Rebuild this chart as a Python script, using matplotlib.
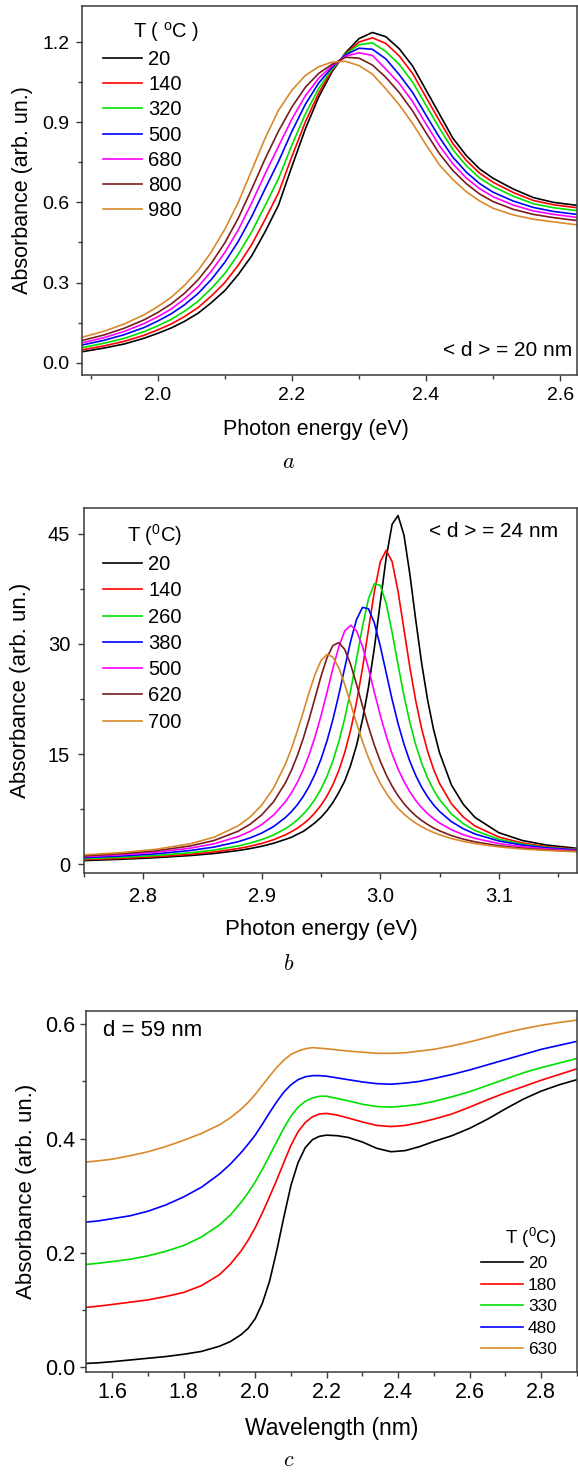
import matplotlib
matplotlib.use("Agg")
import matplotlib.pyplot as plt
from matplotlib.ticker import MultipleLocator

plt.rcParams['font.family'] = ['Liberation Sans', 'DejaVu Sans']
plt.rcParams['mathtext.fontset'] = 'cm'

# ---------------- Panel a data ----------------
energy_a = [1.887, 1.92, 1.95, 1.98, 2.00, 2.02, 2.04, 2.06, 2.08, 2.10, 2.12, 2.14, 2.16, 2.18,
            2.20, 2.22, 2.24, 2.26, 2.28, 2.30, 2.32, 2.34, 2.36, 2.38, 2.40, 2.42, 2.44, 2.46,
            2.48, 2.50, 2.53, 2.56, 2.59, 2.625]
temps_a = ['20', '140', '320', '500', '680', '800', '980']
abs_a_20 = [0.041, 0.055, 0.070, 0.092, 0.110, 0.130, 0.155, 0.185, 0.225, 0.270, 0.330, 0.400, 0.490, 0.590,
            0.735, 0.875, 0.995, 1.090, 1.160, 1.213, 1.236, 1.220, 1.175, 1.110, 1.020, 0.930, 0.840, 0.775,
            0.725, 0.690, 0.650, 0.618, 0.600, 0.589]
abs_a_140 = [0.048, 0.063, 0.080, 0.103, 0.123, 0.145, 0.173, 0.206, 0.250, 0.300, 0.365, 0.442, 0.536, 0.636,
             0.772, 0.901, 1.010, 1.095, 1.156, 1.200, 1.216, 1.195, 1.148, 1.082, 0.993, 0.905, 0.820, 0.757,
             0.709, 0.675, 0.637, 0.607, 0.591, 0.580]
abs_a_320 = [0.056, 0.073, 0.091, 0.117, 0.138, 0.162, 0.193, 0.230, 0.278, 0.334, 0.406, 0.490, 0.588, 0.689,
             0.815, 0.931, 1.027, 1.100, 1.155, 1.190, 1.197, 1.165, 1.116, 1.050, 0.963, 0.877, 0.797, 0.737,
             0.691, 0.659, 0.623, 0.595, 0.580, 0.569]
abs_a_500 = [0.066, 0.084, 0.105, 0.132, 0.156, 0.183, 0.217, 0.259, 0.312, 0.376, 0.454, 0.547, 0.651, 0.753,
             0.866, 0.967, 1.047, 1.106, 1.152, 1.177, 1.173, 1.137, 1.078, 1.011, 0.926, 0.843, 0.769, 0.713,
             0.670, 0.638, 0.605, 0.581, 0.566, 0.555]
abs_a_680 = [0.074, 0.094, 0.117, 0.147, 0.172, 0.201, 0.239, 0.284, 0.343, 0.413, 0.497, 0.598, 0.707, 0.810,
             0.912, 0.999, 1.065, 1.112, 1.147, 1.160, 1.150, 1.099, 1.045, 0.977, 0.893, 0.812, 0.744, 0.691,
             0.651, 0.621, 0.590, 0.568, 0.555, 0.544]
abs_a_800 = [0.083, 0.104, 0.129, 0.161, 0.188, 0.220, 0.260, 0.310, 0.373, 0.449, 0.541, 0.650, 0.763, 0.867,
             0.957, 1.031, 1.083, 1.117, 1.143, 1.140, 1.114, 1.068, 1.011, 0.942, 0.860, 0.782, 0.719, 0.670,
             0.631, 0.603, 0.574, 0.555, 0.543, 0.532]
abs_a_980 = [0.095, 0.118, 0.145, 0.180, 0.210, 0.245, 0.290, 0.345, 0.415, 0.500, 0.600, 0.720, 0.840, 0.945,
             1.020, 1.075, 1.108, 1.125, 1.128, 1.112, 1.080, 1.025, 0.965, 0.895, 0.815, 0.740, 0.685, 0.640,
             0.605, 0.578, 0.553, 0.537, 0.527, 0.516]

# ---------------- Panel b data ----------------
energy_b = [2.75, 2.78, 2.81, 2.84, 2.86, 2.88, 2.89, 2.90, 2.91, 2.92, 2.925, 2.93, 2.935, 2.94, 2.945,
            2.95, 2.955, 2.96, 2.965, 2.97, 2.975, 2.98, 2.985, 2.99, 2.995, 3.00, 3.005, 3.01, 3.015,
            3.02, 3.025, 3.03, 3.035, 3.04, 3.045, 3.05, 3.06, 3.07, 3.08, 3.10, 3.12, 3.14, 3.166]
temps_b = ['20', '140', '260', '380', '500', '620', '700']
abs_b_20 = [0.49, 0.66, 0.88, 1.18, 1.46, 1.86, 2.12, 2.44, 2.85, 3.38, 3.66, 4.07, 4.46, 5.03, 5.65,
            6.39, 7.29, 8.39, 9.76, 11.33, 13.47, 16.19, 19.67, 24.06, 29.44, 35.63, 41.74, 46.28, 47.47,
            44.81, 39.45, 33.17, 27.28, 22.30, 18.32, 15.18, 10.80, 8.16, 6.36, 4.29, 3.22, 2.61, 2.16]
abs_b_140 = [0.62, 0.79, 1.02, 1.35, 1.67, 2.13, 2.44, 2.83, 3.33, 4.00, 4.42, 4.90, 5.48, 6.17, 7.01,
             8.03, 9.27, 10.82, 12.76, 15.20, 18.27, 22.08, 26.69, 31.90, 37.11, 41.17, 42.74, 41.19, 37.15,
             31.96, 26.77, 22.18, 18.39, 15.34, 12.92, 11.00, 8.24, 6.42, 5.19, 3.70, 2.88, 2.40, 2.03]
abs_b_260 = [0.74, 0.93, 1.18, 1.56, 1.93, 2.48, 2.86, 3.35, 3.98, 4.84, 5.38, 6.03, 6.80, 7.73, 8.86,
             10.24, 11.95, 14.06, 16.67, 19.86, 23.66, 27.96, 32.37, 36.10, 38.20, 37.97, 35.48, 31.54, 27.14,
             22.94, 19.27, 16.21, 13.73, 11.72, 10.11, 8.80, 6.85, 5.52, 4.58, 3.39, 2.72, 2.30, 1.97]
abs_b_380 = [0.89, 1.10, 1.40, 1.87, 2.34, 3.06, 3.57, 4.24, 5.13, 6.36, 7.15, 8.09, 9.23, 10.61, 12.28,
             14.31, 16.76, 19.69, 23.06, 26.73, 30.36, 33.34, 34.97, 34.78, 32.85, 29.70, 26.04, 22.42, 19.15,
             16.34, 13.99, 12.05, 10.46, 9.15, 8.07, 7.18, 5.80, 4.83, 4.11, 3.16, 2.59, 2.23, 1.94]
abs_b_500 = [1.03, 1.27, 1.62, 2.19, 2.79, 3.75, 4.46, 5.40, 6.69, 8.51, 9.70, 11.13, 12.85, 14.92, 17.37,
             20.21, 23.37, 26.63, 29.61, 31.75, 32.53, 31.76, 29.64, 26.68, 23.42, 20.28, 17.46, 15.01, 12.96,
             11.26, 9.84, 8.66, 7.69, 6.87, 6.19, 5.61, 4.69, 4.02, 3.51, 2.81, 2.37, 2.08, 1.84]
abs_b_620 = [1.14, 1.41, 1.81, 2.49, 3.24, 4.48, 5.42, 6.71, 8.51, 11.09, 12.77, 14.78, 17.11, 19.79, 22.67,
             25.58, 28.10, 29.76, 30.18, 29.24, 27.19, 24.48, 21.55, 18.74, 16.21, 14.02, 12.17, 10.62, 9.32,
             8.24, 7.34, 6.58, 5.94, 5.40, 4.93, 4.54, 3.90, 3.41, 3.04, 2.51, 2.17, 1.94, 1.74]
abs_b_700 = [1.27, 1.56, 2.01, 2.79, 3.69, 5.22, 6.40, 8.05, 10.37, 13.64, 15.73, 18.11, 20.72, 23.41, 25.87,
             27.72, 28.57, 28.21, 26.73, 24.47, 21.84, 19.18, 16.71, 14.51, 12.63, 11.03, 9.69, 8.56, 7.62,
             6.82, 6.15, 5.58, 5.10, 4.68, 4.32, 4.01, 3.50, 3.11, 2.80, 2.36, 2.06, 1.87, 1.69]

# ---------------- Panel c data ----------------
wavelength_c = [1.527, 1.56, 1.60, 1.65, 1.70, 1.75, 1.80, 1.85, 1.90, 1.93, 1.96, 1.98, 2.00, 2.02,
                2.04, 2.06, 2.08, 2.10, 2.12, 2.14, 2.16, 2.18, 2.20, 2.23, 2.26, 2.30, 2.34, 2.38,
                2.42, 2.46, 2.50, 2.55, 2.60, 2.65, 2.70, 2.75, 2.80, 2.85, 2.90]
temps_c = ['20', '180', '330', '480', '630']
abs_c_20 = [0.007, 0.008, 0.010, 0.013, 0.016, 0.019, 0.023, 0.028, 0.037, 0.045, 0.057, 0.068, 0.085, 0.112,
            0.150, 0.203, 0.262, 0.318, 0.358, 0.384, 0.398, 0.404, 0.406, 0.405, 0.402, 0.394, 0.383, 0.377,
            0.379, 0.386, 0.395, 0.405, 0.418, 0.434, 0.452, 0.469, 0.483, 0.494, 0.503]
abs_c_180 = [0.105, 0.107, 0.110, 0.114, 0.118, 0.124, 0.131, 0.143, 0.162, 0.180, 0.203, 0.222, 0.244, 0.270,
             0.298, 0.327, 0.358, 0.388, 0.412, 0.428, 0.438, 0.443, 0.444, 0.441, 0.436, 0.429, 0.423, 0.421,
             0.423, 0.428, 0.434, 0.443, 0.455, 0.468, 0.480, 0.491, 0.502, 0.512, 0.522]
abs_c_330 = [0.180, 0.182, 0.185, 0.189, 0.195, 0.203, 0.213, 0.228, 0.249, 0.266, 0.288, 0.305, 0.324, 0.346,
             0.370, 0.394, 0.418, 0.439, 0.455, 0.465, 0.471, 0.474, 0.474, 0.470, 0.466, 0.460, 0.456, 0.455,
             0.457, 0.460, 0.465, 0.473, 0.482, 0.493, 0.504, 0.515, 0.524, 0.532, 0.540]
abs_c_480 = [0.254, 0.256, 0.260, 0.265, 0.273, 0.284, 0.298, 0.315, 0.338, 0.355, 0.375, 0.390, 0.406, 0.425,
             0.445, 0.464, 0.481, 0.494, 0.503, 0.508, 0.510, 0.510, 0.509, 0.506, 0.503, 0.499, 0.496, 0.495,
             0.497, 0.500, 0.505, 0.512, 0.520, 0.529, 0.538, 0.547, 0.556, 0.563, 0.570]
abs_c_630 = [0.359, 0.361, 0.364, 0.370, 0.377, 0.386, 0.397, 0.409, 0.424, 0.436, 0.451, 0.463, 0.477, 0.493,
             0.509, 0.524, 0.537, 0.547, 0.553, 0.557, 0.559, 0.558, 0.557, 0.555, 0.553, 0.551, 0.549, 0.549,
             0.550, 0.553, 0.556, 0.562, 0.569, 0.577, 0.585, 0.592, 0.598, 0.603, 0.607]

colors7 = ['#000000', '#ff0000', '#00e000', '#0000ff', '#ff00ff', '#7a1c1c', '#d9892a']
colors5 = ['#000000', '#ff0000', '#00e000', '#0000ff', '#d9892a']

W, H = 578, 1472
fig = plt.figure(figsize=(W / 100, H / 100), dpi=100)


def px_axes(left, top, right, bottom):
    return fig.add_axes([left / W, 1 - bottom / H, (right - left) / W, (bottom - top) / H])


def style(ax, labelsize, pad=3):
    for s in ax.spines.values():
        s.set_color('#3a3a3a')
        s.set_linewidth(1.1)
    ax.tick_params(which='both', direction='out', top=False, right=False, color='#3a3a3a',
                   labelsize=labelsize, width=1.0, pad=pad)
    ax.tick_params(which='major', length=4.5)
    ax.tick_params(which='minor', length=2.8)


# ---- Panel a ----
axa = px_axes(82, 6, 577, 375)
series_a = [abs_a_20, abs_a_140, abs_a_320, abs_a_500, abs_a_680, abs_a_800, abs_a_980]
for ys, c, lab in zip(series_a, colors7, temps_a):
    axa.plot(energy_a, ys, color=c, lw=1.2, label=lab)
axa.set_xlim(1.887, 2.625)
axa.set_ylim(-0.046, 1.335)
axa.xaxis.set_major_locator(MultipleLocator(0.2))
axa.xaxis.set_minor_locator(MultipleLocator(0.1))
axa.yaxis.set_major_locator(MultipleLocator(0.3))
axa.yaxis.set_minor_locator(MultipleLocator(0.15))
axa.xaxis.set_major_formatter(plt.FormatStrFormatter('%.1f'))
axa.yaxis.set_major_formatter(plt.FormatStrFormatter('%.1f'))
style(axa, 14, pad=4.5)
axa.set_xlabel('Photon energy (eV)', fontsize=15.5)
axa.xaxis.set_label_coords((316 - 82) / 495, -0.118)
axa.set_ylabel('Absorbance (arb. un.)', fontsize=15.5, labelpad=7)
leg = axa.legend(loc='upper left',
                 bbox_to_anchor=((103 - 82) / 495, 1 - (50 - 6) / 369), frameon=False,
                 fontsize=14.5, handlelength=1.95, handletextpad=0.3,
                 labelspacing=0.31, borderpad=0, borderaxespad=0)
axa.text((166 - 82) / 495, 1 - (32 - 6) / 369, r'T ( $\mathregular{^{o}}$C )', transform=axa.transAxes,
         ha='center', va='center', fontsize=14.5)
axa.text(0.99, 0.066, '< d > = 20 nm', transform=axa.transAxes, ha='right', va='center', fontsize=15)
fig.text(289 / W, 1 - 463 / H, '$a$', ha='center', va='center', fontsize=16)

# ---- Panel b ----
axb = px_axes(84, 508, 577, 873)
series_b = [abs_b_20, abs_b_140, abs_b_260, abs_b_380, abs_b_500, abs_b_620, abs_b_700]
for ys, c, lab in zip(series_b, colors7, temps_b):
    axb.plot(energy_b, ys, color=c, lw=1.2, label=lab)
axb.set_xlim(2.75, 3.166)
axb.set_ylim(-1.2, 48.5)
axb.xaxis.set_major_locator(MultipleLocator(0.1))
axb.xaxis.set_minor_locator(MultipleLocator(0.05))
axb.yaxis.set_major_locator(MultipleLocator(15))
axb.yaxis.set_minor_locator(MultipleLocator(7.5))
axb.xaxis.set_major_formatter(plt.FormatStrFormatter('%.1f'))
style(axb, 14.5, pad=5.5)
axb.set_xlabel('Photon energy (eV)', fontsize=16)
axb.xaxis.set_label_coords((321 - 84) / 493, -(919 - 873) / 365)
axb.set_ylabel('Absorbance (arb. un.)', fontsize=16, labelpad=12)
legb = axb.legend(title=r'T ($\mathregular{^{0}}$C)', loc='upper left',
                  bbox_to_anchor=((103 - 84) / 493, 1 - (522 - 508) / 365), frameon=False,
                  fontsize=14.5, title_fontsize=14.5, handlelength=1.95, handletextpad=0.3,
                  labelspacing=0.36, borderpad=0, borderaxespad=0)
legb._legend_box.align = 'right'
axb.text(0.962, 0.935, '< d > = 24 nm', transform=axb.transAxes, ha='right', va='center', fontsize=15)
fig.text(289 / W, 1 - 965 / H, '$b$', ha='center', va='center', fontsize=16)

# ---- Panel c ----
axc = px_axes(86, 1011, 577, 1372)
series_c = [abs_c_20, abs_c_180, abs_c_330, abs_c_480, abs_c_630]
for ys, c, lab in zip(series_c, colors5, temps_c):
    axc.plot(wavelength_c, ys, color=c, lw=1.2, label=lab)
axc.set_xlim(1.527, 2.9)
axc.set_ylim(-0.008, 0.623)
axc.xaxis.set_major_locator(MultipleLocator(0.2))
axc.xaxis.set_minor_locator(MultipleLocator(0.1))
axc.yaxis.set_major_locator(MultipleLocator(0.2))
axc.yaxis.set_minor_locator(MultipleLocator(0.1))
axc.xaxis.set_major_formatter(plt.FormatStrFormatter('%.1f'))
axc.yaxis.set_major_formatter(plt.FormatStrFormatter('%.1f'))
style(axc, 15.5, pad=3)
axc.set_xlabel('Wavelength (nm)', fontsize=16.5)
axc.xaxis.set_label_coords(0.5, -(1417 - 1372) / 361)
axc.set_ylabel('Absorbance (arb. un.)', fontsize=16, labelpad=6)
legc = axc.legend(title=r'T ($\mathregular{^{0}}$C)', loc='lower right',
                  bbox_to_anchor=(1 - (577 - 557) / 491, (1372 - 1357) / 361), frameon=False,
                  fontsize=12.5, title_fontsize=13.5, handlelength=2.4, handletextpad=0.3,
                  labelspacing=0.36, borderpad=0, borderaxespad=0)
legc._legend_box.align = 'right'
axc.text(0.035, 0.945, 'd = 59 nm', transform=axc.transAxes, ha='left', va='center', fontsize=16)
fig.text(289 / W, 1 - 1460 / H, '$c$', ha='center', va='center', fontsize=16)

fig.savefig('out.png', dpi=100)
